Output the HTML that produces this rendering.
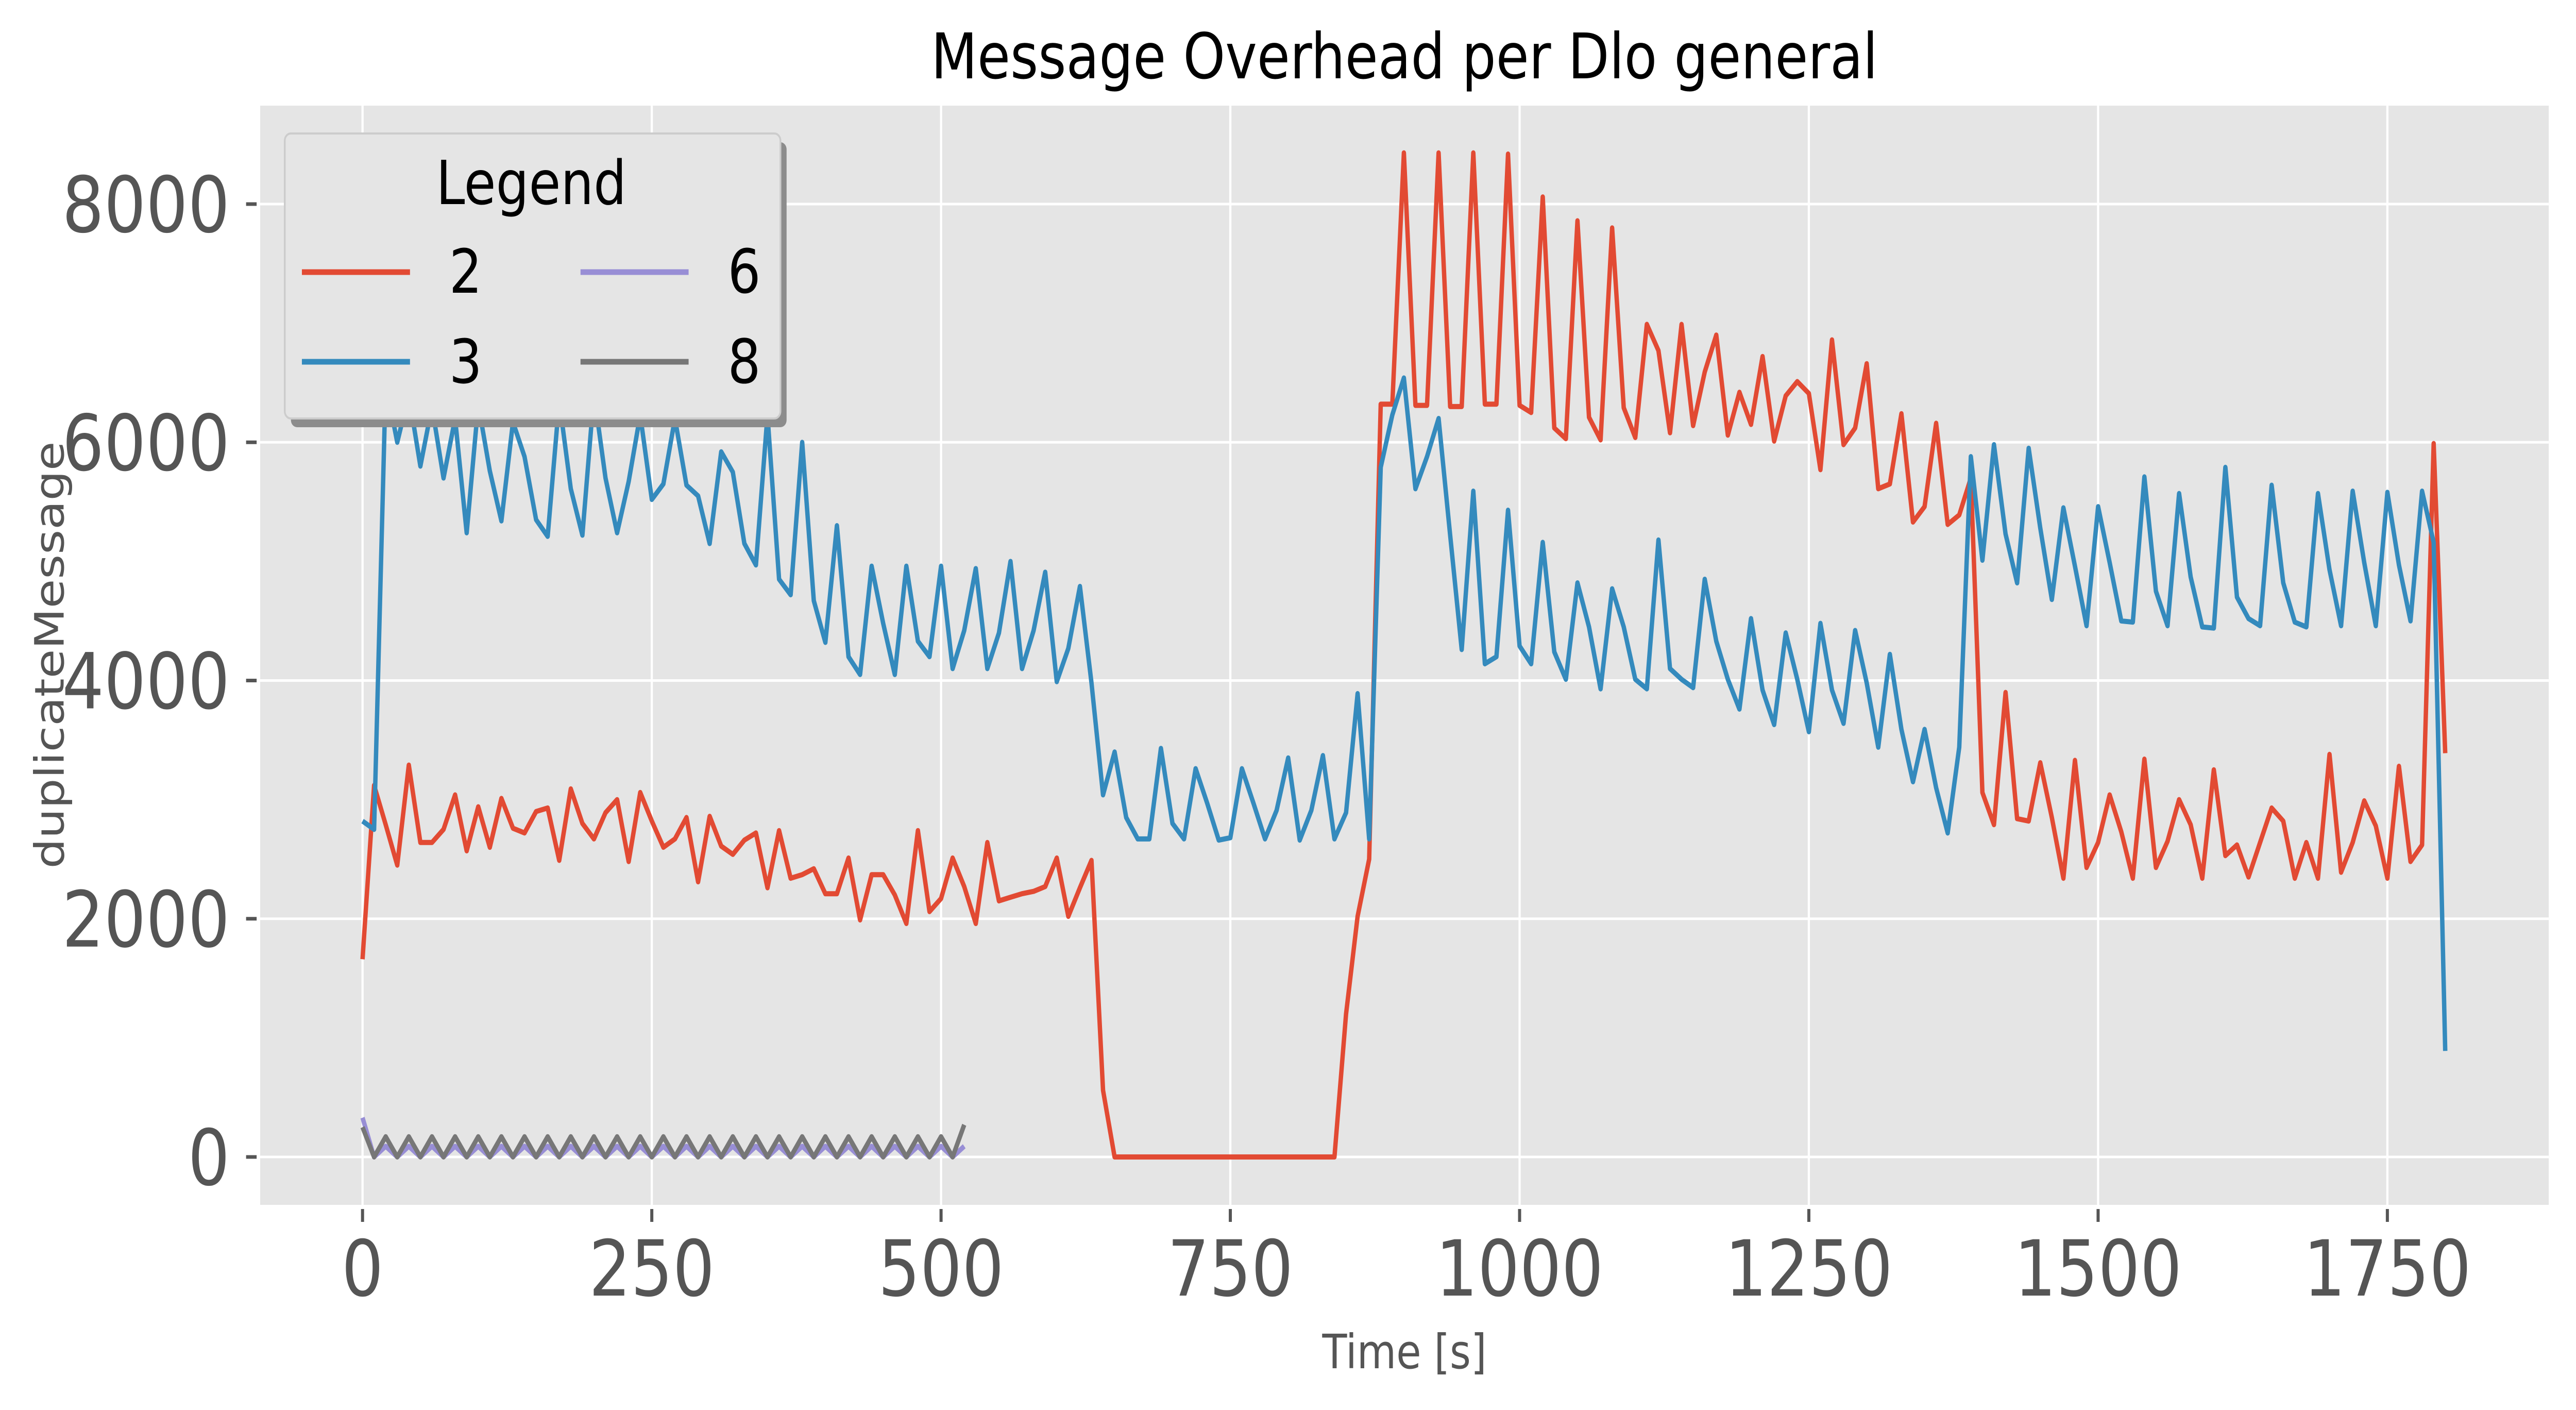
<!DOCTYPE html>
<html><head><meta charset="utf-8"><style>
html,body{margin:0;padding:0;background:#fff;width:100%;height:100%;overflow:hidden}
svg{display:block;width:100vw;height:100vh}
text{font-family:"DejaVu Sans","Liberation Sans",sans-serif}
</style></head><body>
<svg id="chart" viewBox="0 0 5862 2736" preserveAspectRatio="none" xmlns="http://www.w3.org/2000/svg">
<rect x="0" y="0" width="5862" height="2736" fill="#ffffff"/>
<rect x="592" y="205" width="5208" height="2133" fill="#E5E5E5"/>
<g id="grid"></g>
<g id="ticks"></g>
<g id="series"></g>
<text x="3196" y="152" font-size="122" text-anchor="middle" fill="#000">Message Overhead per Dlo general</text>
<text x="3196" y="2655" font-size="92" text-anchor="middle" fill="#555">Time [s]</text>
<text transform="translate(145,1271) rotate(-90)" font-size="92" text-anchor="middle" fill="#555">duplicateMessage</text>
<g>
<rect x="662" y="276" width="1128" height="553" rx="14" fill="#8c8c8c"/>
<rect x="648" y="259" width="1128" height="553" rx="14" fill="#E5E5E5" stroke="#cccccc" stroke-width="4"/>
<text x="1209" y="396" font-size="118" text-anchor="middle" fill="#000">Legend</text>
<line x1="687" y1="528" x2="933" y2="528" stroke="#E24A33" stroke-width="11"/>
<text x="1022" y="568" font-size="118" fill="#000">2</text>
<line x1="687" y1="702" x2="933" y2="702" stroke="#348ABD" stroke-width="11"/>
<text x="1022" y="743" font-size="118" fill="#000">3</text>
<line x1="1321" y1="528" x2="1567" y2="528" stroke="#988ED5" stroke-width="11"/>
<text x="1656" y="568" font-size="118" fill="#000">6</text>
<line x1="1321" y1="702" x2="1567" y2="702" stroke="#777777" stroke-width="11"/>
<text x="1656" y="743" font-size="118" fill="#000">8</text>
</g>
</svg>
<script>
const xTicks = [0, 250, 500, 750, 1000, 1250, 1500, 1750];
const yTicks = [0, 2000, 4000, 6000, 8000];
const timeStep = 10;
const series2 = [1660,3120,2790,2450,3290,2640,2640,2750,3040,2570,
2940,2600,3010,2760,2720,2900,2930,2490,3090,2800,
2670,2890,3000,2480,3060,2820,2600,2670,2850,2310,
2860,2610,2540,2660,2720,2260,2740,2340,2370,2420,
2210,2210,2510,1990,2370,2370,2200,1960,2740,2060,
2170,2510,2270,1960,2640,2150,2180,2210,2230,2270,
2510,2020,2260,2490,560,0,0,0,0,0,
0,0,0,0,0,0,0,0,0,0,
0,0,0,0,0,1200,2020,2500,6320,6320,
8430,6310,6310,8430,6300,6300,8430,6320,6320,8420,
6310,6250,8060,6120,6030,7860,6210,6020,7800,6290,
6040,6990,6770,6080,6990,6140,6590,6900,6060,6420,
6150,6720,6010,6390,6510,6410,5770,6860,5980,6120,
6660,5610,5650,6240,5330,5460,6160,5310,5390,5700,
3060,2790,3900,2840,2820,3310,2850,2340,3330,2430,
2640,3040,2730,2340,3340,2430,2650,3000,2790,2340,
3250,2530,2620,2350,2640,2930,2820,2340,2640,2340,
3380,2390,2640,2990,2780,2340,3280,2480,2620,5990,
3390];
const series3 = [2820,2750,6500,6000,6400,5800,6300,5700,6200,5240,
6320,5760,5340,6170,5880,5350,5210,6350,5610,5220,
6410,5700,5240,5670,6230,5520,5650,6200,5640,5550,
5150,5920,5750,5150,4970,6230,4850,4720,6000,4670,
4320,5300,4200,4050,4960,4480,4050,4960,4330,4200,
4960,4100,4420,4940,4100,4400,5000,4100,4420,4910,
3990,4270,4790,3980,3040,3400,2850,2670,2670,3430,
2800,2670,3260,2970,2660,2680,3260,2970,2670,2910,
3350,2660,2910,3370,2670,2890,3890,2670,5790,6230,
6540,5610,5880,6200,5220,4260,5590,4140,4200,5430,
4290,4140,5160,4240,4010,4820,4450,3930,4770,4450,
4010,3930,5180,4100,4010,3940,4850,4330,4010,3760,
4520,3920,3630,4400,4010,3570,4480,3920,3640,4420,
3980,3440,4220,3590,3150,3590,3100,2720,3440,5880,
5010,5980,5230,4820,5950,5280,4680,5450,4960,4460,
5460,4990,4500,4490,5710,4750,4460,5570,4870,4450,
4440,5790,4700,4520,4460,5640,4820,4490,4450,5570,
4930,4460,5590,4990,4460,5580,4970,4500,5590,5160,
890];
const series6 = [330,0,90,0,90,0,90,0,90,0,
90,0,90,0,90,0,90,0,90,0,
90,0,90,0,90,0,90,0,90,0,
90,0,90,0,90,0,90,0,90,0,
90,0,90,0,90,0,90,0,90,0,
90,0,90];
const series8 = [250,0,170,0,170,0,170,0,170,0,
170,0,170,0,170,0,170,0,170,0,
170,0,170,0,170,0,170,0,170,0,
170,0,170,0,170,0,170,0,170,0,
170,0,170,0,170,0,170,0,170,0,
170,0,270];

const X0 = 825, XS = 2.633;
const Y0 = 2245, YS = (2245 - 396) / 8000;
function xScale(t){ return X0 + t * XS; }
function yScale(v){ return Y0 - v * YS; }
const NS = 'http://www.w3.org/2000/svg';
const grid = document.getElementById('grid');
const ticks = document.getElementById('ticks');
const seriesG = document.getElementById('series');

xTicks.forEach(function(t){
  const x = xScale(t);
  const g = document.createElementNS(NS,'line');
  g.setAttribute('x1',x); g.setAttribute('x2',x); g.setAttribute('y1',205); g.setAttribute('y2',2338);
  g.setAttribute('stroke','#ffffff'); g.setAttribute('stroke-width','5');
  
  
  grid.appendChild(g);
  const tk = document.createElementNS(NS,'line');
  tk.setAttribute('x1',x); tk.setAttribute('x2',x); tk.setAttribute('y1',2346); tk.setAttribute('y2',2371);
  tk.setAttribute('stroke','#555555'); tk.setAttribute('stroke-width','7');
  
  
  ticks.appendChild(tk);
  const lb = document.createElementNS(NS,'text');
  lb.setAttribute('x',x); lb.setAttribute('y',2514); lb.setAttribute('font-size','150');
  lb.setAttribute('text-anchor','middle'); lb.setAttribute('fill','#555555');
  lb.textContent = String(t);
  
  
  ticks.appendChild(lb);
});
yTicks.forEach(function(v){
  const y = yScale(v);
  const g = document.createElementNS(NS,'line');
  g.setAttribute('x1',592); g.setAttribute('x2',5800); g.setAttribute('y1',y); g.setAttribute('y2',y);
  g.setAttribute('stroke','#ffffff'); g.setAttribute('stroke-width','5');
  
  
  grid.appendChild(g);
  const tk = document.createElementNS(NS,'line');
  tk.setAttribute('x1',560); tk.setAttribute('x2',584); tk.setAttribute('y1',y); tk.setAttribute('y2',y);
  tk.setAttribute('stroke','#555555'); tk.setAttribute('stroke-width','7');
  
  
  ticks.appendChild(tk);
  const lb = document.createElementNS(NS,'text');
  lb.setAttribute('x',523); lb.setAttribute('y',y + 54); lb.setAttribute('font-size','150');
  lb.setAttribute('text-anchor','end'); lb.setAttribute('fill','#555555');
  lb.textContent = String(v);
  
  
  ticks.appendChild(lb);
});

function drawSeries(vals, color, name){
  const pts = vals.map(function(v,i){ return xScale(i*timeStep).toFixed(1)+','+yScale(v).toFixed(1); }).join(' ');
  const pl = document.createElementNS(NS,'polyline');
  pl.setAttribute('points', pts);
  pl.setAttribute('fill','none'); pl.setAttribute('stroke',color);
  pl.setAttribute('stroke-width','10'); pl.setAttribute('stroke-linejoin','round');
  
  
  seriesG.appendChild(pl);
}
drawSeries(series2, '#E24A33', 'series-2-line');
drawSeries(series3, '#348ABD', 'series-3-line');
drawSeries(series6, '#988ED5', 'series-6-line');
drawSeries(series8, '#777777', 'series-8-line');
</script>
</body></html>
